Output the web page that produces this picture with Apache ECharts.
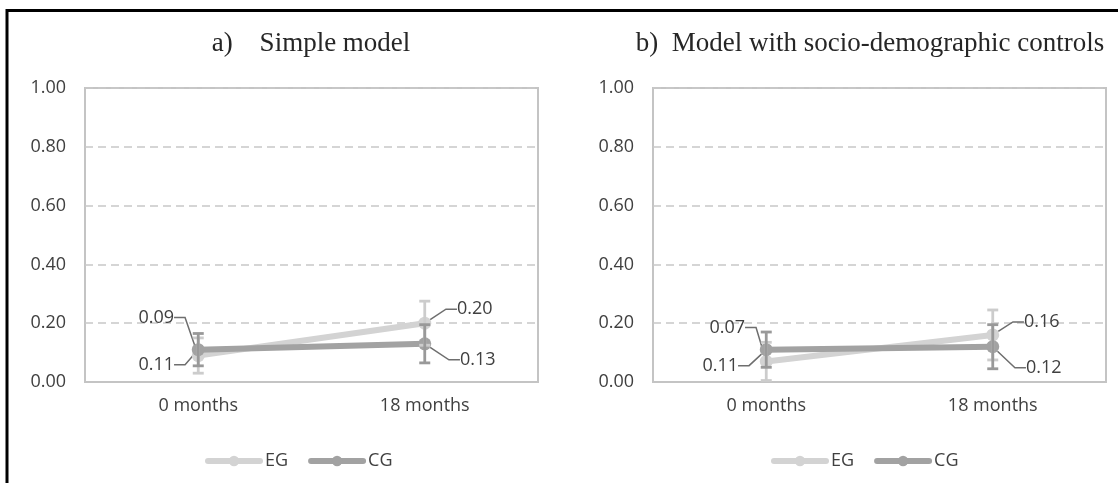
<!DOCTYPE html>
<html>
<head>
<meta charset="utf-8">
<script src="https://cdn.jsdelivr.net/npm/echarts@6/dist/echarts.min.js"></script>
<style>
  html, body { margin: 0; padding: 0; background: #fff; }
  #chart { width: 1118px; height: 483px; }
</style>
</head>
<body>
<div id="chart"></div>
<script>
// --- Data ---
const categories = ['0 months', '18 months'];
const seriesNames = ['EG', 'CG'];

// a) Simple model
const egSimple = [0.09, 0.20];
const cgSimple = [0.11, 0.13];
const egSimpleLow = [0.03, 0.125];
const egSimpleHigh = [0.15, 0.275];
const cgSimpleLow = [0.055, 0.065];
const cgSimpleHigh = [0.165, 0.195];

// b) Model with socio-demographic controls
const egControls = [0.07, 0.16];
const cgControls = [0.11, 0.12];
const egControlsLow = [0.005, 0.075];
const egControlsHigh = [0.135, 0.245];
const cgControlsLow = [0.05, 0.045];
const cgControlsHigh = [0.17, 0.195];

const yMin = 0, yMax = 1, yStep = 0.2;

// --- Style ---
const EG_COLOR = '#d3d3d3';
const CG_COLOR = '#a2a2a2';
const TEXT_COLOR = '#404040';
const FONT = '"Open Sans", "Noto Sans", sans-serif';
const TITLE_FONT = '"Liberation Serif", serif';

// label offsets from the point centre (dx, dy) per panel / series / category
const labelOffsets = [
    { EG: [[-42, -38], [50, -14]], CG: [[-42, 15], [53, 16]] },
    { EG: [[-39, -34], [49, -13]], CG: [[-46, 16], [51, 21]] }
];

const chart = echarts.init(document.getElementById('chart'));

function errorBarItem(params, api) {
    const lo = api.coord([api.value(0), api.value(1)]);
    const hi = api.coord([api.value(0), api.value(2)]);
    const half = 5.5;
    const style = { stroke: api.visual('color'), lineWidth: 2.8 };
    return {
        type: 'group',
        children: [
            { type: 'line', shape: { x1: lo[0], y1: lo[1], x2: hi[0], y2: hi[1] }, style },
            { type: 'line', shape: { x1: lo[0] - half, y1: lo[1], x2: lo[0] + half, y2: lo[1] }, style },
            { type: 'line', shape: { x1: hi[0] - half, y1: hi[1], x2: hi[0] + half, y2: hi[1] }, style }
        ]
    };
}

function lineSeries(name, values, color, panel) {
    return {
        name: name,
        type: 'line',
        xAxisIndex: panel,
        yAxisIndex: panel,
        data: values,
        color: color,
        symbol: 'circle',
        symbolSize: 13,
        lineStyle: { width: 6, color: color, cap: 'round' },
        itemStyle: { color: color },
        z: 2,
        label: {
            show: true,
            position: 'inside',
            formatter: p => p.value.toFixed(2),
            fontFamily: FONT,
            fontSize: 18,
            color: TEXT_COLOR,
            padding: [2, 4]
        },
        labelLine: { show: true, length2: 11, lineStyle: { color: '#6e6e6e', width: 1.5 } },
        labelLayout: params => {
            const off = labelOffsets[panel][name][params.dataIndex];
            return {
                x: params.rect.x + params.rect.width / 2 + off[0],
                y: params.rect.y + params.rect.height / 2 + off[1],
                align: 'center',
                verticalAlign: 'middle'
            };
        },
        animation: false
    };
}

function errorSeries(name, low, high, color, panel) {
    return {
        name: name + ' error',
        type: 'custom',
        xAxisIndex: panel,
        yAxisIndex: panel,
        itemStyle: { color: color },
        renderItem: errorBarItem,
        data: categories.map((c, i) => [i, low[i], high[i]]),
        z: 3,
        silent: true,
        animation: false
    };
}

const grids = [
    { left: 85, top: 88, width: 453, height: 294 },
    { left: 653, top: 88, width: 453, height: 294 }
];

const option = {
    backgroundColor: '#fff',
    animation: false,
    graphic: [{
        type: 'polyline',
        shape: { points: [[7, 483], [7, 10.5], [1118, 10.5]] },
        style: { stroke: '#000', lineWidth: 3, fill: null },
        silent: true
    }],
    title: [
        { text: 'a)    Simple model', left: 311, top: 30, textAlign: 'center', padding: 0,
          textStyle: { fontFamily: TITLE_FONT, fontSize: 27, fontWeight: 'normal', color: '#262626' } },
        { text: 'b)  Model with socio-demographic controls', left: 870, top: 30, textAlign: 'center', padding: 0,
          textStyle: { fontFamily: TITLE_FONT, fontSize: 27, fontWeight: 'normal', color: '#262626' } }
    ],
    legend: [0, 1].map(i => ({
        data: seriesNames,
        left: i === 0 ? 205 : 771,
        top: 452,
        padding: 0,
        itemWidth: 52,
        itemHeight: 13,
        itemGap: 20,
        selectedMode: false,
        lineStyle: { width: 6, cap: 'round' },
        textStyle: { fontFamily: FONT, fontSize: 18, color: TEXT_COLOR }
    })),
    grid: grids.map(g => Object.assign({ show: true, borderColor: '#c4c4c4', borderWidth: 2 }, g)),
    xAxis: [0, 1].map(i => ({
        type: 'category',
        gridIndex: i,
        data: categories,
        axisLine: { lineStyle: { color: '#c4c4c4', width: 2 } },
        axisTick: { show: false },
        axisLabel: { fontFamily: FONT, fontSize: 18, color: TEXT_COLOR, margin: 15 },
        splitLine: { show: false }
    })),
    yAxis: [0, 1].map(i => ({
        type: 'value',
        gridIndex: i,
        min: yMin,
        max: yMax,
        interval: yStep,
        axisLine: { show: false },
        axisTick: { show: false },
        axisLabel: { fontFamily: FONT, fontSize: 18, color: TEXT_COLOR, margin: 19, formatter: v => v.toFixed(2) },
        splitLine: { lineStyle: { color: '#c8c8c8', width: 1.5, type: [8, 5] } }
    })),
    series: [
        lineSeries('EG', egSimple, EG_COLOR, 0),
        lineSeries('CG', cgSimple, CG_COLOR, 0),
        errorSeries('EG', egSimpleLow, egSimpleHigh, '#cccccc', 0),
        errorSeries('CG', cgSimpleLow, cgSimpleHigh, '#999999', 0),
        lineSeries('EG', egControls, EG_COLOR, 1),
        lineSeries('CG', cgControls, CG_COLOR, 1),
        errorSeries('EG', egControlsLow, egControlsHigh, '#cccccc', 1),
        errorSeries('CG', cgControlsLow, cgControlsHigh, '#999999', 1)
    ]
};

chart.setOption(option);
</script>
</body>
</html>
